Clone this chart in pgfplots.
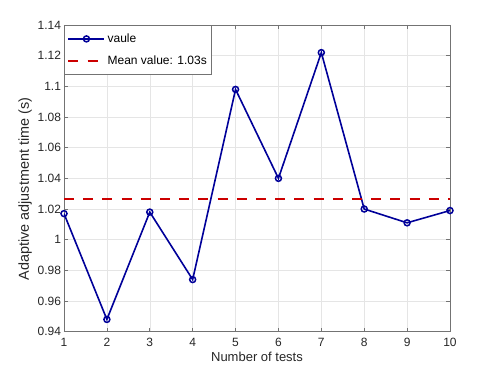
\documentclass[border=0pt]{standalone}
\usepackage{fontspec}
\setmainfont{Liberation Sans}
\usepackage{pgfplots}
\pgfplotsset{compat=1.18}
\definecolor{mblue}{rgb}{0,0,0.6}
\definecolor{mred}{rgb}{0.8,0,0}
\definecolor{axgray}{rgb}{0.45,0.45,0.45}
\definecolor{txtgray}{rgb}{0.15,0.15,0.15}
\pgfplotsset{
  marklegend/.style={legend image code/.code={
      \draw[##1, mark repeat=2, mark phase=2] plot coordinates {(2pt,0pt) (20pt,0pt) (38pt,0pt)};}},
  linelegend/.style={legend image code/.code={
      \draw[##1] (2pt,0pt) -- (38pt,0pt);}},
}
\begin{document}
\begin{tikzpicture}
\path[use as bounding box] (-64pt,-42.3pt) rectangle (434pt,331.7pt);
\begin{axis}[
    scale only axis,
    width=386pt, height=306.7pt,
    at={(0,0)}, anchor=south west,
    xmin=1, xmax=10, ymin=0.94, ymax=1.14,
    xtick={1,...,10},
    ytick={0.94,0.96,...,1.14},
    yticklabels={0.94,0.96,0.98,1,1.02,1.04,1.06,1.08,1.1,1.12,1.14},
    grid=major,
    major grid style={black!10, line width=0.5pt},
    axis line style={axgray, line width=0.6pt},
    tick style={axgray, line width=0.6pt},
    major tick length=4pt,
    tick align=inside,
    xtick pos=both, ytick pos=both,
    ticklabel style={font=\fontsize{12}{14}\selectfont, text=txtgray},
    yticklabel style={xshift=0.5pt},
    xticklabel style={yshift=-3pt},
    /pgf/number format/assume math mode=true,
    xlabel={Number of tests},
    ylabel={Adaptive adjustment time (s)},
    xlabel style={font=\fontsize{13}{15}\selectfont, text=txtgray, yshift=2pt},
    ylabel style={font=\fontsize{14.4}{16}\selectfont, text=txtgray,
        at={(ticklabel cs:0.465)}, yshift=-1pt},
    legend cell align=left,
    legend style={at={(0,1)}, anchor=north west, draw=axgray, line width=0.6pt,
        font=\fontsize{12}{14}\selectfont, text=black,
        inner xsep=3pt, inner ysep=6.5pt, row sep=8pt},
]
\addplot[mblue, line width=1.6pt, mark=o, mark size=3pt,
    mark options={line width=1.5pt}, marklegend]
  coordinates {
  (1,1.017) (2,0.948) (3,1.018) (4,0.974) (5,1.098)
  (6,1.040) (7,1.122) (8,1.020) (9,1.011) (10,1.019)
};
\addlegendentry{vaule}
\addplot[mred, line width=2.3pt, dash pattern=on 10pt off 9.2pt, linelegend]
  coordinates {(1,1.0267) (10,1.0267)};
\addlegendentry{Mean value: 1.03s}
\end{axis}
\end{tikzpicture}
\end{document}
